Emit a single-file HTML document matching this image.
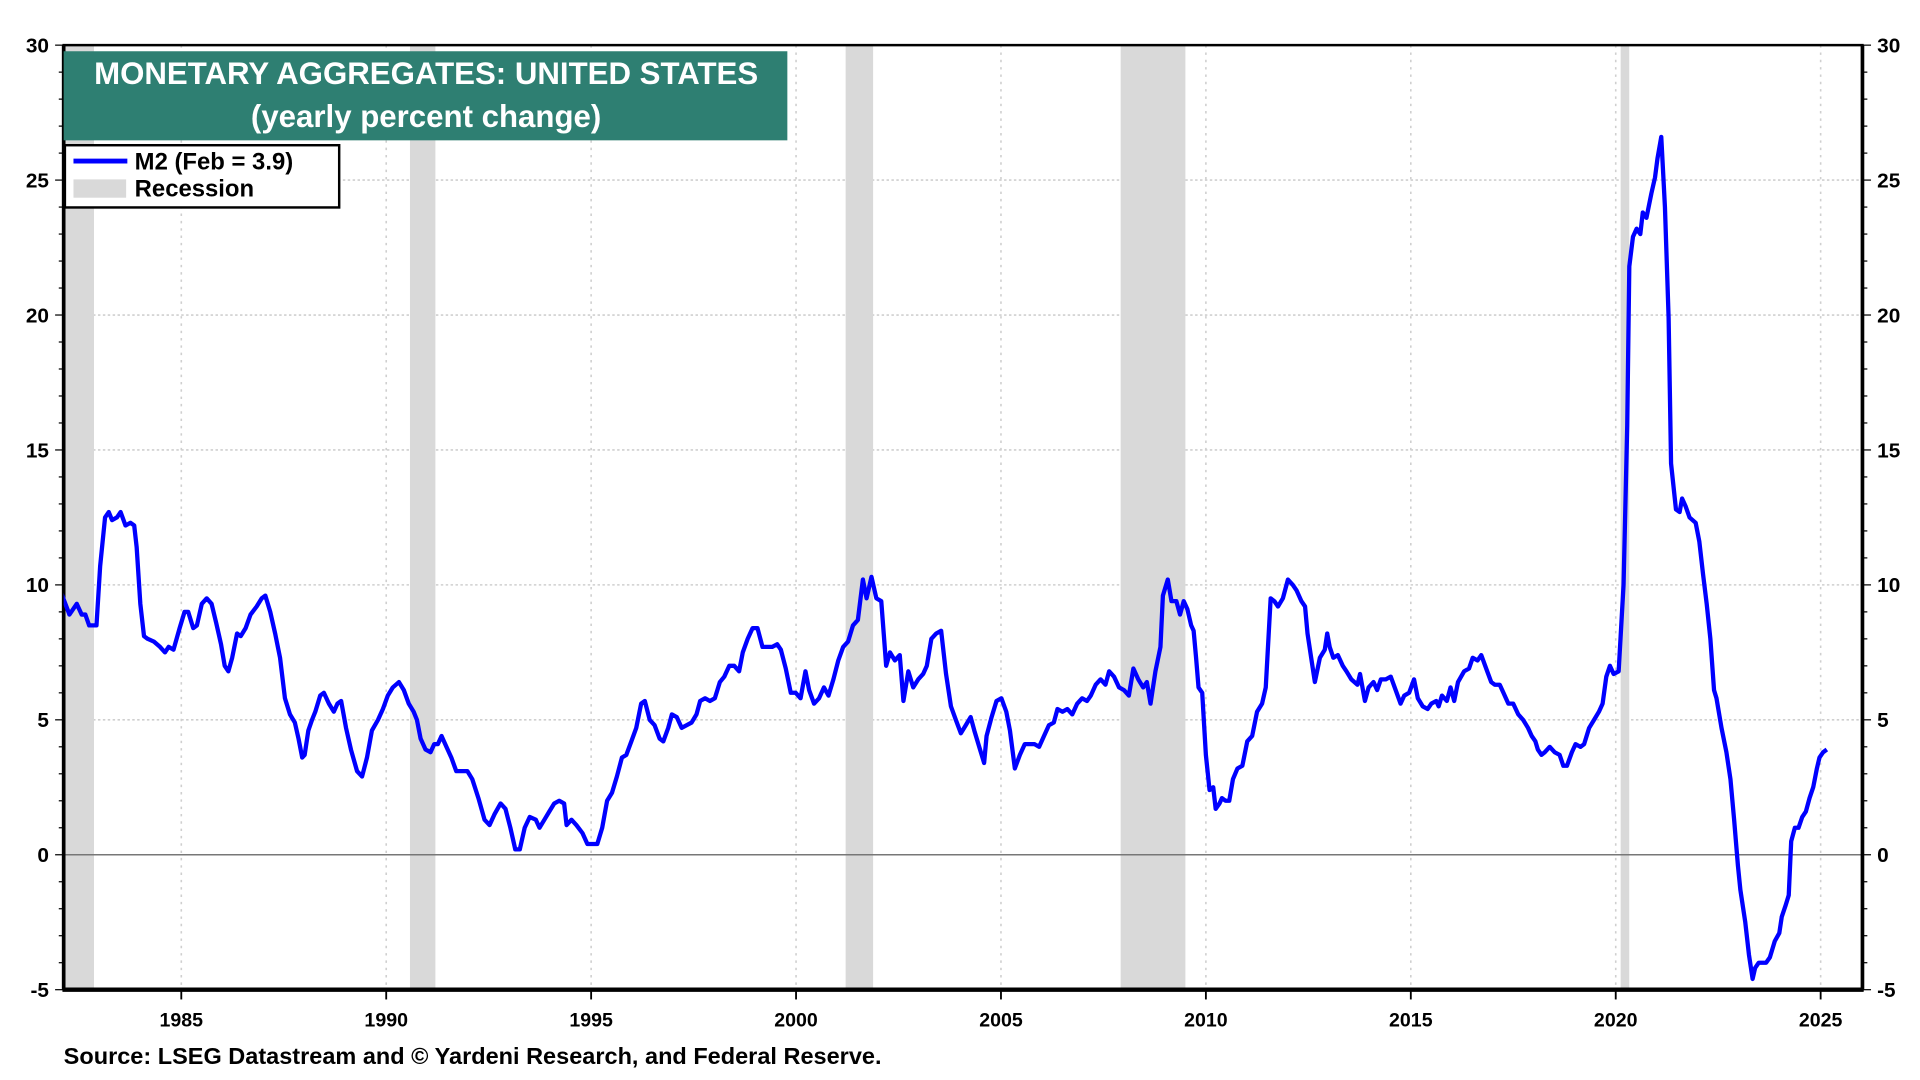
<!DOCTYPE html>
<html><head><meta charset="utf-8"><style>
html,body{margin:0;padding:0;background:#fff;}
svg{display:block;}
text{font-family:"Liberation Sans",sans-serif;font-weight:bold;}
</style></head><body>
<svg id="chart" width="1920" height="1080" viewBox="0 0 1568 885" preserveAspectRatio="none" xmlns="http://www.w3.org/2000/svg">
<defs><clipPath id="pc"><rect x="52" y="37" width="1469" height="774"/></clipPath></defs>
<g id="grid"></g>
<g id="rec"></g>
<g id="axes"></g>
<g id="series" clip-path="url(#pc)"></g>
<rect x="52" y="42" width="591" height="73" fill="#2e7f72"/>
<text x="348" y="69" fill="#fff" font-size="25.5" text-anchor="middle">MONETARY AGGREGATES: UNITED STATES</text>
<text x="348" y="104" fill="#fff" font-size="25.5" text-anchor="middle">(yearly percent change)</text>
<g>
<rect x="53" y="119" width="224" height="51" fill="#fff" stroke="#000" stroke-width="2"/>
<line x1="60" y1="132" x2="104" y2="132" stroke="#0000ff" stroke-width="4"/>
<text x="110" y="139" font-size="19.5">M2 (Feb = 3.9)</text>
<rect x="60" y="147" width="43" height="15" fill="#d9d9d9"/>
<text x="110" y="161" font-size="19.5">Recession</text>
</g>
<text x="52" y="872" font-size="19.2">Source: LSEG Datastream and © Yardeni Research, and Federal Reserve.</text>
</svg>
<script>
const years=[1982.00,1982.12,1982.27,1982.45,1982.57,1982.66,1982.75,1982.93,1983.02,1983.14,1983.23,1983.31,1983.43,1983.52,1983.64,1983.76,1983.85,1983.91,1984.00,1984.09,1984.18,1984.33,1984.48,1984.60,1984.69,1984.81,1984.96,1985.08,1985.17,1985.29,1985.38,1985.50,1985.62,1985.74,1985.85,1985.97,1986.06,1986.15,1986.24,1986.36,1986.45,1986.57,1986.69,1986.84,1986.96,1987.05,1987.17,1987.29,1987.41,1987.53,1987.65,1987.77,1987.86,1987.95,1988.01,1988.10,1988.19,1988.27,1988.39,1988.48,1988.60,1988.72,1988.81,1988.90,1989.02,1989.14,1989.29,1989.41,1989.53,1989.65,1989.80,1989.92,1990.04,1990.16,1990.31,1990.43,1990.55,1990.67,1990.75,1990.84,1990.96,1991.08,1991.17,1991.26,1991.35,1991.47,1991.59,1991.71,1991.86,1991.98,1992.10,1992.25,1992.40,1992.52,1992.64,1992.79,1992.91,1993.03,1993.15,1993.26,1993.38,1993.50,1993.65,1993.74,1993.86,1993.98,1994.10,1994.22,1994.34,1994.40,1994.52,1994.64,1994.79,1994.91,1995.03,1995.15,1995.27,1995.39,1995.51,1995.63,1995.75,1995.86,1995.98,1996.10,1996.22,1996.31,1996.43,1996.55,1996.67,1996.76,1996.88,1996.97,1997.09,1997.21,1997.33,1997.45,1997.57,1997.66,1997.78,1997.90,1998.02,1998.14,1998.25,1998.37,1998.49,1998.61,1998.70,1998.82,1998.94,1999.06,1999.18,1999.30,1999.42,1999.54,1999.63,1999.75,1999.87,1999.99,2000.11,2000.23,2000.32,2000.44,2000.56,2000.68,2000.79,2000.91,2001.03,2001.15,2001.27,2001.39,2001.51,2001.63,2001.72,2001.84,2001.96,2002.08,2002.20,2002.29,2002.41,2002.53,2002.62,2002.74,2002.86,2002.98,2003.10,2003.19,2003.30,2003.42,2003.54,2003.66,2003.78,2003.90,2004.02,2004.14,2004.26,2004.35,2004.47,2004.59,2004.65,2004.77,2004.89,2005.01,2005.13,2005.22,2005.34,2005.46,2005.58,2005.70,2005.82,2005.93,2006.05,2006.17,2006.29,2006.38,2006.50,2006.62,2006.74,2006.86,2006.98,2007.10,2007.19,2007.31,2007.43,2007.55,2007.64,2007.76,2007.88,2008.00,2008.12,2008.23,2008.35,2008.47,2008.56,2008.65,2008.77,2008.89,2008.95,2009.07,2009.16,2009.28,2009.37,2009.46,2009.55,2009.64,2009.70,2009.76,2009.82,2009.91,2010.00,2010.09,2010.18,2010.24,2010.33,2010.39,2010.48,2010.57,2010.66,2010.77,2010.89,2011.01,2011.13,2011.25,2011.37,2011.46,2011.58,2011.67,2011.76,2011.88,2012.00,2012.12,2012.21,2012.33,2012.42,2012.48,2012.57,2012.66,2012.78,2012.90,2012.96,2013.02,2013.11,2013.22,2013.34,2013.43,2013.55,2013.70,2013.76,2013.88,2013.97,2014.09,2014.18,2014.27,2014.39,2014.51,2014.63,2014.75,2014.84,2014.96,2015.08,2015.17,2015.29,2015.41,2015.50,2015.62,2015.68,2015.76,2015.88,2015.97,2016.06,2016.15,2016.30,2016.42,2016.51,2016.63,2016.72,2016.84,2016.96,2017.05,2017.17,2017.26,2017.38,2017.50,2017.62,2017.74,2017.86,2017.95,2018.04,2018.10,2018.19,2018.27,2018.39,2018.51,2018.63,2018.72,2018.81,2018.93,2019.02,2019.14,2019.23,2019.35,2019.47,2019.59,2019.68,2019.77,2019.86,2019.95,2020.07,2020.19,2020.28,2020.33,2020.42,2020.51,2020.60,2020.66,2020.75,2020.87,2020.96,2021.02,2021.11,2021.20,2021.29,2021.35,2021.47,2021.56,2021.62,2021.71,2021.80,2021.95,2022.04,2022.13,2022.22,2022.31,2022.40,2022.46,2022.58,2022.70,2022.80,2022.89,2022.98,2023.04,2023.16,2023.25,2023.34,2023.40,2023.49,2023.58,2023.67,2023.76,2023.88,2023.99,2024.05,2024.14,2024.22,2024.28,2024.37,2024.46,2024.55,2024.64,2024.73,2024.82,2024.91,2024.97,2025.06,2025.15];
const m2=[10.0,9.5,8.9,9.3,8.9,8.9,8.5,8.5,10.7,12.5,12.7,12.4,12.5,12.7,12.2,12.3,12.2,11.4,9.3,8.1,8.0,7.9,7.7,7.5,7.7,7.6,8.4,9.0,9.0,8.4,8.5,9.3,9.5,9.3,8.6,7.8,7.0,6.8,7.3,8.2,8.1,8.4,8.9,9.2,9.5,9.6,9.0,8.2,7.3,5.8,5.2,4.9,4.3,3.6,3.7,4.6,5.0,5.3,5.9,6.0,5.6,5.3,5.6,5.7,4.7,3.9,3.1,2.9,3.6,4.6,5.0,5.4,5.9,6.2,6.4,6.1,5.6,5.3,5.0,4.3,3.9,3.8,4.1,4.1,4.4,4.0,3.6,3.1,3.1,3.1,2.8,2.1,1.3,1.1,1.5,1.9,1.7,1.0,0.2,0.2,1.0,1.4,1.3,1.0,1.3,1.6,1.9,2.0,1.9,1.1,1.3,1.1,0.8,0.4,0.4,0.4,1.0,2.0,2.3,2.9,3.6,3.7,4.2,4.7,5.6,5.7,5.0,4.8,4.3,4.2,4.7,5.2,5.1,4.7,4.8,4.9,5.2,5.7,5.8,5.7,5.8,6.4,6.6,7.0,7.0,6.8,7.5,8.0,8.4,8.4,7.7,7.7,7.7,7.8,7.6,6.9,6.0,6.0,5.8,6.8,6.1,5.6,5.8,6.2,5.9,6.5,7.2,7.7,7.9,8.5,8.7,10.2,9.5,10.3,9.5,9.4,7.0,7.5,7.2,7.4,5.7,6.8,6.2,6.5,6.7,7.0,8.0,8.2,8.3,6.7,5.5,5.0,4.5,4.8,5.1,4.6,4.0,3.4,4.4,5.1,5.7,5.8,5.3,4.6,3.2,3.7,4.1,4.1,4.1,4.0,4.4,4.8,4.9,5.4,5.3,5.4,5.2,5.6,5.8,5.7,5.9,6.3,6.5,6.3,6.8,6.6,6.2,6.1,5.9,6.9,6.5,6.2,6.4,5.6,6.8,7.7,9.6,10.2,9.4,9.4,8.9,9.4,9.1,8.5,8.3,7.3,6.2,6.0,3.7,2.4,2.5,1.7,1.9,2.1,2.0,2.0,2.8,3.2,3.3,4.2,4.4,5.3,5.6,6.2,9.5,9.4,9.2,9.5,10.2,10.0,9.8,9.4,9.2,8.2,7.3,6.4,7.3,7.6,8.2,7.7,7.3,7.4,7.0,6.8,6.5,6.3,6.7,5.7,6.2,6.4,6.1,6.5,6.5,6.6,6.1,5.6,5.9,6.0,6.5,5.8,5.5,5.4,5.6,5.7,5.5,5.9,5.7,6.2,5.7,6.4,6.8,6.9,7.3,7.2,7.4,6.9,6.4,6.3,6.3,6.0,5.6,5.6,5.2,5.0,4.7,4.4,4.2,3.9,3.7,3.8,4.0,3.8,3.7,3.3,3.3,3.8,4.1,4.0,4.1,4.7,5.0,5.3,5.6,6.6,7.0,6.7,6.8,10.0,15.9,21.8,22.9,23.2,23.0,23.8,23.6,24.5,25.1,25.8,26.6,24.0,19.9,14.5,12.8,12.7,13.2,12.9,12.5,12.3,11.6,10.4,9.3,8.0,6.1,5.8,4.7,3.8,2.8,1.3,-0.4,-1.3,-2.5,-3.7,-4.6,-4.2,-4.0,-4.0,-4.0,-3.8,-3.2,-2.9,-2.3,-1.9,-1.5,0.5,1.0,1.0,1.4,1.6,2.1,2.5,3.2,3.6,3.8,3.9];
const recStart=[1981.5,1990.58,2001.21,2007.92,2020.12];
const recEnd=[1982.87,1991.2,2001.88,2009.5,2020.33];
const yTicks=[-5,0,5,10,15,20,25,30];
const xTicks=[1985,1990,1995,2000,2005,2010,2015,2020,2025];

const L=52,R=1521,T=37,B=811;
const X0=1982.13,X1=2026.02,Y0=-5,Y1=30;
const sx=v=>L+(v-X0)/(X1-X0)*(R-L);
const sy=v=>B-(v-Y0)/(Y1-Y0)*(B-T);
const NS='http://www.w3.org/2000/svg';
function mk(tag,attrs,parent,txt){const e=document.createElementNS(NS,tag);for(const k in attrs)e.setAttribute(k,attrs[k]);if(txt!==undefined)e.textContent=txt;parent.appendChild(e);return e;}
const grid=document.getElementById('grid'),rec=document.getElementById('rec'),axes=document.getElementById('axes'),series=document.getElementById('series');

xTicks.forEach(t=>{
  const g=mk('line',{x1:sx(t),x2:sx(t),y1:T,y2:B,stroke:'#cfcfcf','stroke-width':1.3,'stroke-dasharray':'2,4'},grid);
  
  
  const tk=mk('line',{x1:sx(t),x2:sx(t),y1:B,y2:B+8,stroke:'#000','stroke-width':1.5},axes);
  
  
  const lb=mk('text',{x:sx(t),y:B+30,'font-size':16,'text-anchor':'middle'},axes,String(t));
  
  
});
yTicks.forEach(t=>{
  if(t!==Y0&&t!==Y1&&t!==0){
    const g=mk('line',{x1:L,x2:R,y1:sy(t),y2:sy(t),stroke:'#cfcfcf','stroke-width':1.3,'stroke-dasharray':'2,2'},grid);
    
    
  }
  const ll=mk('text',{x:L-12,y:sy(t)+6,'font-size':17,'text-anchor':'end'},axes,String(t));
  
  
  const rl=mk('text',{x:R+12,y:sy(t)+6,'font-size':17,'text-anchor':'start'},axes,String(t));
  
  
});
for(let v=Y0;v<=Y1;v++){
  const a=mk('line',{x1:L-(v%5===0?7:4),x2:L,y1:sy(v),y2:sy(v),stroke:'#000','stroke-width':1},axes);
  
  
  const b=mk('line',{x1:R,x2:R+(v%5===0?7:4),y1:sy(v),y2:sy(v),stroke:'#000','stroke-width':1},axes);
  
  
}
recStart.forEach((s,i)=>{
  const x1=Math.max(L,sx(s)),x2=sx(recEnd[i]);
  const r=mk('rect',{x:x1,y:T,width:x2-x1,height:B-T,fill:'#d9d9d9'},rec);
  
  
});
const z=mk('line',{x1:L,x2:R,y1:sy(0),y2:sy(0),stroke:'#777','stroke-width':1.2},axes);


const fr=mk('path',{d:`M${L},${T}H${R}V${B}H${L}Z`,fill:'none',stroke:'#000','stroke-width':2},axes);


const bl=mk('line',{x1:L-1,x2:R+1,y1:B,y2:B,stroke:'#000','stroke-width':3.5},axes);


const lf=mk('line',{x1:L,x2:L,y1:T,y2:B,stroke:'#000','stroke-width':3},axes);


const rt=mk('line',{x1:R,x2:R,y1:T,y2:B,stroke:'#000','stroke-width':3},axes);


let d='';
years.forEach((y,i)=>{d+=(i?'L':'M')+sx(y).toFixed(1)+','+sy(m2[i]).toFixed(1);});
const p=mk('path',{d:d,fill:'none',stroke:'#0000ff','stroke-width':3.5,'stroke-linejoin':'round'},series);


</script>
</body></html>
